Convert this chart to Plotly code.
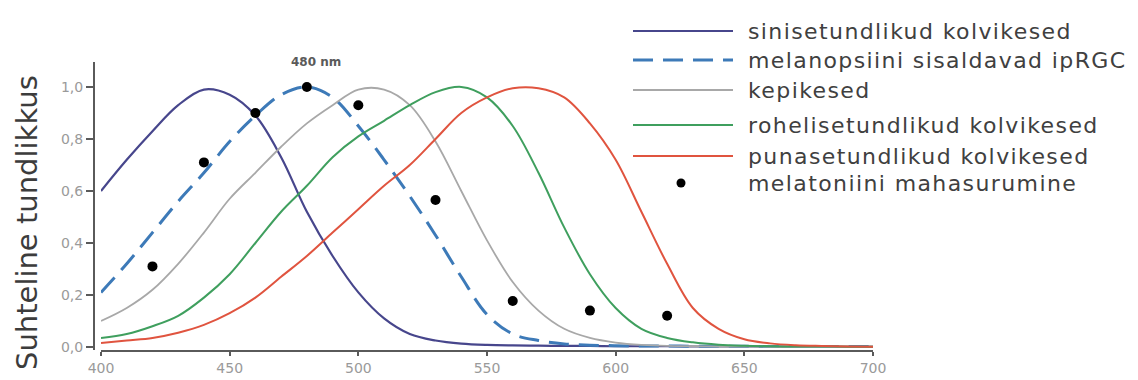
import plotly.graph_objects as go

# ---------------- data ----------------
wavelength = [400, 410, 420, 430, 440, 450, 460, 470, 480, 490, 500, 510, 520, 530, 540, 550,
              560, 570, 580, 590, 600, 610, 620, 630, 640, 650, 660, 670, 680, 690, 700]

s_cones = [0.60, 0.72, 0.83, 0.93, 0.99, 0.97, 0.89, 0.73, 0.52, 0.35, 0.21, 0.11, 0.05, 0.025,
           0.013, 0.008, 0.006, 0.005, 0.004, 0.004, 0.003, 0.003, 0.003, 0.002, 0.002, 0.002,
           0.002, 0.001, 0.001, 0.001, 0.001]

melanopsin = [0.21, 0.32, 0.44, 0.56, 0.67, 0.79, 0.89, 0.97, 1.00, 0.96, 0.85, 0.72, 0.58, 0.43,
              0.27, 0.125, 0.05, 0.025, 0.012, 0.007, 0.005, 0.004, 0.004, 0.003, 0.003, 0.003,
              0.002, 0.002, 0.002, 0.002, 0.002]

rods = [0.10, 0.15, 0.22, 0.32, 0.44, 0.57, 0.67, 0.77, 0.86, 0.93, 0.99, 0.99, 0.93, 0.79,
        0.60, 0.41, 0.25, 0.14, 0.07, 0.035, 0.017, 0.008, 0.004, 0.003, 0.002, 0.002, 0.001,
        0.001, 0.001, 0.001, 0.001]

m_cones = [0.035, 0.05, 0.08, 0.12, 0.19, 0.28, 0.40, 0.52, 0.62, 0.73, 0.81, 0.87, 0.93, 0.98,
           1.00, 0.96, 0.85, 0.67, 0.46, 0.28, 0.15, 0.07, 0.035, 0.018, 0.009, 0.005, 0.003,
           0.002, 0.002, 0.001, 0.001]

l_cones = [0.015, 0.025, 0.035, 0.055, 0.085, 0.13, 0.19, 0.27, 0.35, 0.44, 0.53, 0.62, 0.70,
           0.80, 0.90, 0.96, 0.995, 0.995, 0.96, 0.86, 0.72, 0.52, 0.32, 0.15, 0.07, 0.03, 0.014,
           0.007, 0.004, 0.002, 0.001]

mel_wavelength = [420, 440, 460, 480, 500, 530, 560, 590, 620]
mel_suppression = [0.31, 0.71, 0.90, 1.00, 0.93, 0.565, 0.177, 0.14, 0.12]

series_names = ["sinisetundlikud kolvikesed", "melanopsiini sisaldavad ipRGC", "kepikesed",
                "rohelisetundlikud kolvikesed", "punasetundlikud kolvikesed",
                "melatoniini mahasurumine"]
series_colors = ["#47468c", "#3d7ab8", "#a8a8a8", "#3f9f5e", "#e0543f", "#000000"]
series_dash = ["solid", "20px,10px", "solid", "solid", "solid", None]
series_width = [2.2, 3, 1.8, 2, 2, None]

y_ticks = [0.0, 0.2, 0.4, 0.6, 0.8, 1.0]
y_ticktext = ["0,0", "0,2", "0,4", "0,6", "0,8", "1,0"]
x_ticks = [400, 450, 500, 550, 600, 650, 700]

y_title = "Suhteline tundlikkus"
peak_label = "480 nm"

# ---------------- layout geometry ----------------
W, H = 1138, 380
ML, MR, MT, MB = 94, 265, 62, 30
PW, PH = W - ML - MR, H - MT - MB
def px_x(p):  # pixel -> paper x
    return (p - ML) / PW
def px_y(p):  # pixel -> paper y
    return (H - MB - p) / PH

legend_rows_px = [31, 60, 90, 125, 156, 183]
legend_line_px = (633, 733)
legend_text_px = 746
legend_dot_px = 681

fig = go.Figure()
curves = [s_cones, melanopsin, rods, m_cones, l_cones]
for i, ys in enumerate(curves):
    fig.add_trace(go.Scatter(
        x=wavelength, y=ys, mode="lines", name=series_names[i],
        line=dict(color=series_colors[i], width=series_width[i], dash=series_dash[i],
                  shape="spline", smoothing=1.0),
        showlegend=False, cliponaxis=False))
fig.add_trace(go.Scatter(
    x=mel_wavelength, y=mel_suppression, mode="markers", name=series_names[5],
    marker=dict(color=series_colors[5], size=10), showlegend=False, cliponaxis=False))

shapes = []
annotations = []
# custom legend (long sample lines, like the reference)
for i, name in enumerate(series_names):
    yp = px_y(legend_rows_px[i])
    if series_dash[i] is not None:
        shapes.append(dict(type="line", xref="paper", yref="paper",
                           x0=px_x(legend_line_px[0]), x1=px_x(legend_line_px[1]), y0=yp, y1=yp,
                           line=dict(color=series_colors[i], width=series_width[i],
                                     dash=series_dash[i])))
    else:
        shapes.append(dict(type="circle", xref="paper", yref="paper",
                           xsizemode="pixel", ysizemode="pixel",
                           xanchor=px_x(legend_dot_px), yanchor=yp,
                           x0=-4.5, x1=4.5, y0=-4.5, y1=4.5,
                           fillcolor=series_colors[i], line=dict(width=0)))
    annotations.append(dict(
        xref="paper", yref="paper", x=px_x(legend_text_px), y=yp, xanchor="left", yanchor="middle",
        text='<span style="letter-spacing:1.4px">' + name + "</span>", showarrow=False,
        font=dict(family="DejaVu Sans", size=22, color="#404040")))

annotations.append(dict(
    xref="paper", yref="paper", x=px_x(27), y=px_y(223), xanchor="center", yanchor="middle",
    text=y_title, textangle=-90, showarrow=False,
    font=dict(family="DejaVu Sans", size=29, color="#3c3c3c")))
annotations.append(dict(
    xref="x", yref="y", x=483.5, y=1.096, xanchor="center", yanchor="middle",
    text="<b>" + peak_label + "</b>", showarrow=False,
    font=dict(family="DejaVu Sans", size=12, color="#5a5a5a")))

fig.update_layout(
    width=W, height=H, margin=dict(l=ML, r=MR, t=MT, b=MB, autoexpand=False),
    paper_bgcolor="white", plot_bgcolor="white",
    showlegend=False,
    xaxis=dict(domain=[px_x(101), 1], range=[400, 700], tickvals=x_ticks, automargin=False,
               showgrid=False, zeroline=False, showline=True, linecolor="#5a5a5a", linewidth=2,
               ticks="outside", ticklen=4, tickwidth=1.5, tickcolor="#5a5a5a",
               tickfont=dict(family="DejaVu Sans", size=14, color="#9a9a9a"),
               ticklabelstandoff=0),
    yaxis=dict(anchor="free", position=0, range=[-0.0115, 1.096], tickvals=y_ticks,
               ticktext=y_ticktext, showgrid=False, zeroline=False, showline=True,
               automargin=False,
               linecolor="#5a5a5a", linewidth=2, ticks="outside", ticklen=7, tickwidth=1.5,
               tickcolor="#5a5a5a", tickfont=dict(family="DejaVu Sans", size=14, color="#9a9a9a")),
    shapes=shapes, annotations=annotations,
)
fig.write_html("out.html")
